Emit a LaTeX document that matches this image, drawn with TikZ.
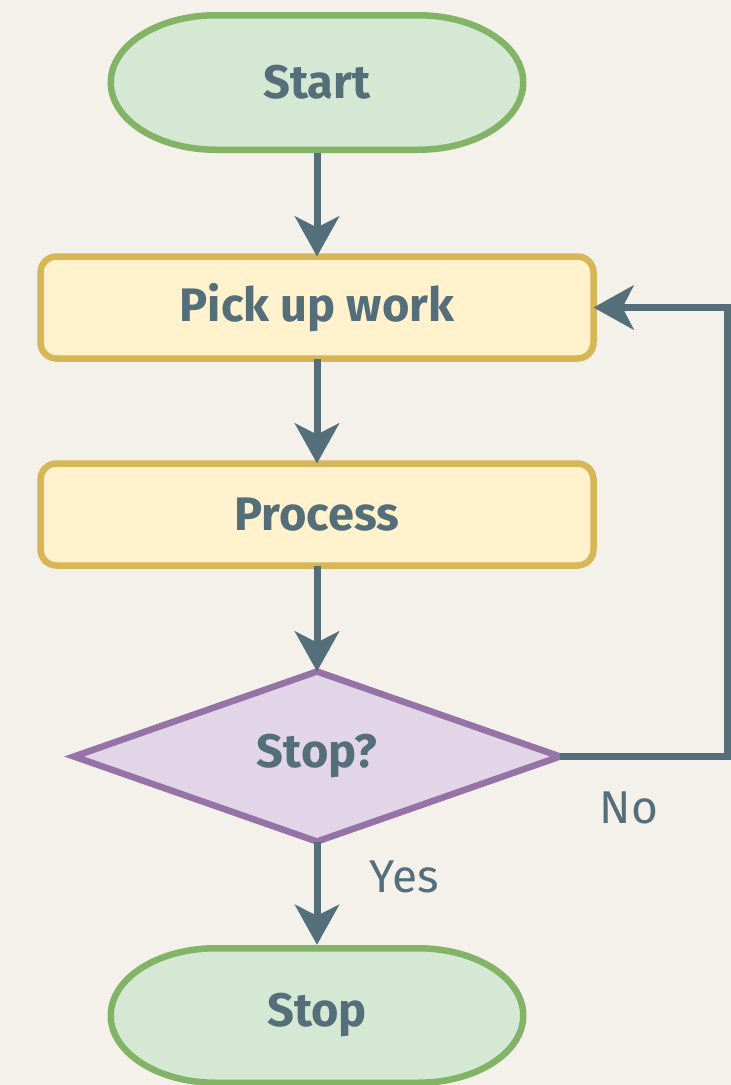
\documentclass[tikz,border=0pt]{standalone}
\usepackage{fontspec}
\setmainfont{Fira Sans}
\usetikzlibrary{shapes.geometric, arrows.meta}

\definecolor{paper}{HTML}{F4F1EB}
\definecolor{ink}{HTML}{546E7A}
\definecolor{termline}{HTML}{82B366}
\definecolor{termfill}{HTML}{D5E8D4}
\definecolor{boxline}{HTML}{D6B656}
\definecolor{boxfill}{HTML}{FFF2CC}
\definecolor{decline}{HTML}{9673A6}
\definecolor{decfill}{HTML}{E1D5E7}

\tikzset{
  tagtext/.style={font=\fontsize{46}{50}\selectfont, text=ink},
  boldtext/.style={font=\bfseries\fontsize{47}{52}\selectfont, text=ink},
  terminal/.style={boldtext, minimum width=419pt, minimum height=141pt, inner sep=0pt,
    path picture={
      \draw[line width=6.5pt, draw=termline, fill=termfill]
        ([xshift=108.25pt, yshift=-3.25pt]path picture bounding box.north west)
        -- ([xshift=-108.25pt, yshift=-3.25pt]path picture bounding box.north east)
        arc[start angle=90, end angle=-90, x radius=105pt, y radius=67.25pt]
        -- ([xshift=108.25pt, yshift=3.25pt]path picture bounding box.south west)
        arc[start angle=270, end angle=90, x radius=105pt, y radius=67.25pt]
        -- cycle;
    }},
  task/.style={boldtext, draw=boxline, fill=boxfill, line width=6.5pt, rounded corners=16pt,
    minimum width=553pt, minimum height=102pt, outer sep=0pt},
  choice/.style={boldtext, diamond, draw=decline, fill=decfill, line width=6.5pt,
    minimum width=486pt, minimum height=170pt, inner sep=0pt, outer sep=0pt},
  flow/.style={draw=ink, line width=7pt, -{Stealth[length=40pt, width=44pt, inset=11pt]}},
}

\begin{document}
\begin{tikzpicture}[x=1pt, y=-1pt]
    \useasboundingbox (0,0) rectangle (731,1085);
    \fill[paper] (0,0) rectangle (731,1085);

    \node[terminal] at (317, 82.5) (start) {Start};
    \node[task] at (317, 307.5) (pick) {Pick up work};
    \node[task] at (317, 514.5) (proc) {Process};
    \node[choice] at (317, 756.5) (ask) {Stop?};
    \node[terminal] at (317, 1015.5) (stop) {Stop};
    \coordinate (turn) at (727, 756.5);

    \draw[flow] (start) -- (pick);
    \draw[flow] (pick) -- (proc);
    \draw[flow] (proc) -- (ask);
    \draw[flow] (ask) -- (stop);
    \draw[flow] (ask.east) -- (turn) |- (pick.east);

    \node[tagtext] at (629, 808) (no) {No};
    \node[tagtext] at (404, 877) (yes) {Yes};
\end{tikzpicture}
\end{document}
